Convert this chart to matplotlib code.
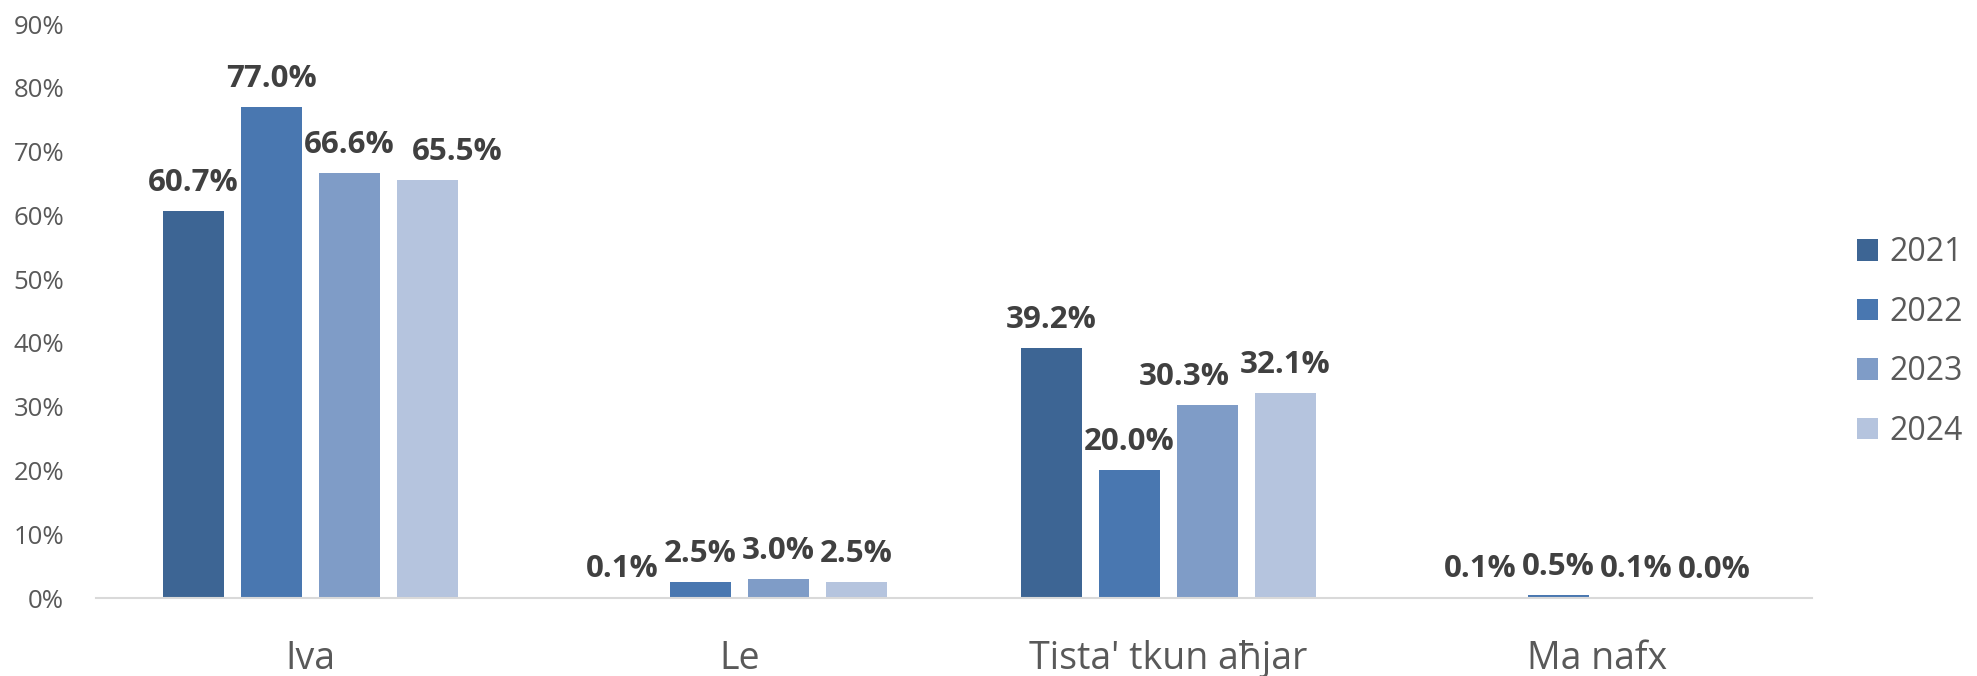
import numpy as np
import matplotlib.pyplot as plt
from matplotlib.ticker import PercentFormatter

categories = ["Iva", "Le", "Tista' tkun aħjar", "Ma nafx"]
years = ["2021", "2022", "2023", "2024"]
values = {
    "2021": [60.7, 0.1, 39.2, 0.1],
    "2022": [77.0, 2.5, 20.0, 0.5],
    "2023": [66.6, 3.0, 30.3, 0.1],
    "2024": [65.5, 2.5, 32.1, 0.0],
}
colors = ["#3D6594", "#4977B0", "#7F9CC7", "#B5C4DE"]
# labels that Excel nudged sideways to avoid overlap: (year, category index) -> points
label_shift = {("2024", 0): 21, ("2023", 2): -17}

plt.rcParams['font.family'] = ['Open Sans', 'DejaVu Sans']

fig = plt.figure(figsize=(19.77, 6.76), dpi=100)
ax = fig.add_axes([96 / 1977, 1 - 598 / 676, (1812 - 96) / 1977, (598 - 24) / 676])

x = np.arange(len(categories))
width = 0.142
step = 0.182
for i, yr in enumerate(years):
    pos = x + (i - 1.5) * step
    bars = ax.bar(pos, values[yr], width, color=colors[i], label=yr)
    for j, (b, v) in enumerate(zip(bars, values[yr])):
        dx = label_shift.get((yr, j), 0)
        ax.annotate(f"{v:.1f}%", (b.get_x() + b.get_width() / 2, v),
                    xytext=(dx, 9.5), textcoords='offset points',
                    ha='center', va='bottom', fontsize=22.5, fontweight='bold',
                    color='#404040')

ax.set_xlim(-0.5, len(categories) - 0.5)
ax.set_ylim(0, 90)
ax.set_yticks(range(0, 91, 10))
ax.yaxis.set_major_formatter(PercentFormatter(decimals=0))
ax.set_xticks(x)
ax.set_xticklabels(categories)
ax.tick_params(axis='y', length=0, labelsize=18.5, labelcolor='#595959', pad=23)
ax.tick_params(axis='x', length=0, labelsize=27, labelcolor='#595959', pad=30)
for s in ['top', 'right', 'left']:
    ax.spines[s].set_visible(False)
ax.spines['bottom'].set_color('#D9D9D9')
ax.spines['bottom'].set_linewidth(1.5)

fig.legend(loc='center left', bbox_to_anchor=(1857 / 1977, 1 - 342 / 676), frameon=False,
           fontsize=23, labelcolor='#595959', handlelength=0.66, handleheight=0.66,
           labelspacing=0.83, handletextpad=0.35, borderaxespad=0, borderpad=0)

fig.savefig("out.png", dpi=100)
